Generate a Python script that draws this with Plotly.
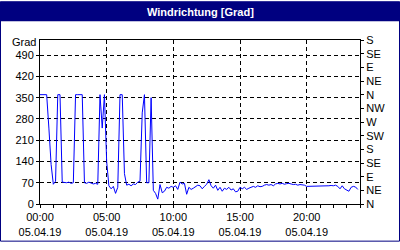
import pandas as pd
import plotly.graph_objects as go

# ---- data ----
start = "2019-04-05 00:00"
wind_dir = [
    360, 360, 360, 360, 250, 130, 65, 75, 360, 360,
    72, 70, 70, 72, 68, 70, 360, 360, 360, 360,
    70, 68, 72, 70, 66, 68, 65, 360, 250, 360,
    140, 60, 50, 58, 35, 55, 360, 360, 100, 62,
    65, 60, 66, 64, 72, 75, 300, 360, 70, 70,
    350, 45, 35, 16, 64, 37, 42, 55, 52, 58,
    55, 60, 48, 72, 66, 68, 32, 55, 48, 52,
    58, 62, 60, 50, 58, 65, 80, 60, 52, 62,
    45, 55, 42, 52, 48, 55, 46, 50, 40, 42,
    55, 50, 55, 48, 52, 56, 58, 55, 60, 57,
    58, 62, 64, 62, 64, 60, 66, 68, 66, 68,
    65, 67, 68, 66, 64, 65, 62, 64, 63, 62,
    58, 58, 59, 58, 58, 59, 58, 58, 59, 58,
    60, 61, 60, 62, 58, 50, 60, 50, 45, 42,
    55, 58, 56, 48,
]
times = pd.date_range(start, periods=len(wind_dir), freq="10min")

left_ticks = [0, 70, 140, 210, 280, 350, 420, 490]
right_ticks = [0, 45, 90, 135, 180, 225, 270, 315, 360, 405, 450, 495, 540]
right_labels = ["N", "NE", "E", "SE", "S", "SW", "W", "NW", "N", "NE", "E", "SE", "S"]
x_tick_times = ["2019-04-05 00:00", "2019-04-05 05:00", "2019-04-05 10:00",
                "2019-04-05 15:00", "2019-04-05 20:00"]
x_tick_labels = ["00:00<br>05.04.19", "05:00<br>05.04.19", "10:00<br>05.04.19",
                 "15:00<br>05.04.19", "20:00<br>05.04.19"]
title_text = "Windrichtung [Grad]"
unit_text = "Grad"

NAVY = "#000080"
FONT = "Liberation Sans"

fig = go.Figure()
fig.add_trace(go.Scatter(x=times, y=wind_dir, mode="lines",
                         line=dict(color="#0000FF", width=1), yaxis="y"))
# invisible trace to activate right axis
fig.add_trace(go.Scatter(x=[times[0]], y=[0], mode="markers",
                         marker=dict(opacity=0), yaxis="y2", hoverinfo="skip"))

W, H = 400, 250
L, R, T, B = 40, 40, 40, 40
pw, ph = W - L - R, H - T - B

def px(xp):
    return (xp - L) / pw

def py(yp):
    return (H - B - yp) / ph

fig.update_layout(
    width=W, height=H,
    margin=dict(l=L, r=R, t=T, b=B, pad=0),
    paper_bgcolor="white", plot_bgcolor="white",
    showlegend=False,
    font=dict(family=FONT, size=11, color="black"),
    xaxis=dict(
        type="date",
        range=["2019-04-05 00:00", "2019-04-06 00:00"],
        tickmode="array", tickvals=x_tick_times, ticktext=x_tick_labels,
        ticks="outside", ticklen=3, tickcolor="black", tickwidth=1,
        showline=True, linecolor="black", linewidth=1, mirror=True,
        showgrid=True, gridcolor="black", gridwidth=1, griddash="4px,3px",
        zeroline=False,
        minor=dict(dtick=3600000, ticks="outside", ticklen=3, tickcolor="black",
                   showgrid=False),
        tickfont=dict(size=11, family=FONT),
    ),
    yaxis=dict(
        range=[0, 540],
        tickmode="array", tickvals=left_ticks,
        ticks="outside", ticklen=3, tickcolor="black",
        showline=True, linecolor="black", linewidth=1,
        showgrid=True, gridcolor="black", gridwidth=1, griddash="4px,3px",
        zeroline=False,
        tickfont=dict(size=11, family=FONT),
    ),
    yaxis2=dict(
        range=[0, 540], overlaying="y", side="right",
        tickmode="array", tickvals=right_ticks, ticktext=right_labels,
        ticks="outside", ticklen=3, tickcolor="black",
        showline=True, linecolor="black", linewidth=1,
        showgrid=False, zeroline=False,
        tickfont=dict(size=11, family=FONT),
    ),
    shapes=[
        dict(type="rect", xref="paper", yref="paper",
             x0=px(0), x1=px(400), y0=py(20.5), y1=py(0),
             fillcolor=NAVY, line=dict(width=0), layer="above"),
        dict(type="rect", xref="paper", yref="paper",
             x0=px(0.5), x1=px(399.5), y0=py(248.5), y1=py(0.5),
             fillcolor="rgba(0,0,0,0)", line=dict(color=NAVY, width=1), layer="above"),
    ],
    annotations=[
        dict(text="<b>" + title_text + "</b>", xref="paper", yref="paper",
             x=0.5, y=py(10.5), xanchor="center", yanchor="middle",
             showarrow=False, font=dict(color="white", size=11, family=FONT)),
        dict(text=unit_text, xref="paper", yref="paper",
             x=0, y=py(42), xanchor="right", yanchor="middle", xshift=-2,
             showarrow=False, font=dict(size=11, family=FONT)),
    ],
)

fig.write_html("out.html")
